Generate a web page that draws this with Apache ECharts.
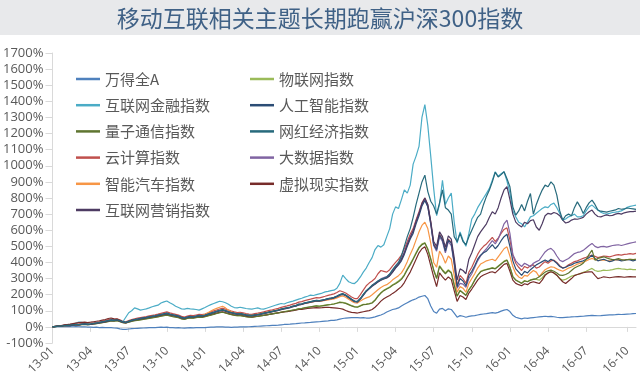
<!DOCTYPE html>
<html><head><meta charset="utf-8">
<script src="https://cdn.jsdelivr.net/npm/echarts@6/dist/echarts.min.js"></script>
<style>html,body{margin:0;padding:0;background:#fff}#c{width:640px;height:382px}</style>
</head><body><div id="c"></div>
<script>
const titleText = '移动互联相关主题长期跑赢沪深300指数';
const startDate = '2013-01-04';
const weekCount = 200;
const tickLabels = ['13-01','13-04','13-07','13-10','14-01','14-04','14-07','14-10','15-01','15-04','15-07','15-10','16-01','16-04','16-07','16-10'];

const windA = [0,1,2,1,2,3,2,1,2,1,
0,1,-1,-2,-3,-2,-4,-3,-5,-4,
-5,-7,-8,-12,-15,-16,-13,-11,-10,-9,
-8,-7,-6,-5,-5,-4,-3,-2,-3,-2,
-4,-5,-6,-5,-7,-8,-6,-5,-6,-5,
-4,-5,-4,-3,-2,-1,0,1,0,-1,
-2,-3,-2,-1,0,1,0,1,2,3,
4,5,6,7,8,9,10,11,13,15,
16,17,19,20,22,24,25,27,28,30,
31,32,34,36,37,40,41,44,48,52,
55,56,57,58,58,56,57,55,54,58,
62,68,74,82,92,100,108,112,118,130,
140,150,160,168,175,185,190,195,175,130,
95,85,110,115,100,112,108,85,60,70,
66,60,65,68,70,74,78,80,82,85,
88,85,90,98,104,108,95,72,60,54,
50,55,53,56,58,60,62,64,66,64,
65,63,60,58,57,59,60,62,63,64,
65,66,68,70,71,70,69,70,72,73,
74,75,76,78,77,78,79,80,82,83];

const cloud = [0,4,7,6,10,13,12,15,18,17,
20,23,20,22,25,28,32,36,40,45,
49,47,50,44,35,32,39,45,50,54,
58,61,64,68,72,75,79,84,89,93,
87,82,78,73,65,61,67,72,70,74,
78,76,80,86,93,99,105,111,116,110,
104,98,93,89,91,87,83,80,78,82,
85,89,93,98,102,106,111,115,121,126,
130,135,141,146,154,157,163,168,172,177,
182,180,185,190,196,200,205,213,224,218,
210,198,186,176,175,200,228,255,272,285,
300,330,350,345,340,355,378,400,420,445,
485,530,575,610,665,715,770,800,755,650,
515,485,575,545,475,545,525,405,255,320,
300,270,340,370,410,450,480,500,515,535,
555,530,550,580,605,615,540,445,395,370,
350,375,365,380,385,365,372,390,405,395,
410,414,400,380,365,372,385,395,405,410,
418,425,432,440,445,438,430,435,440,438,
435,440,445,448,445,450,452,455,452,456];

const iot = [0,2,4,5,7,9,9,11,13,12,
15,17,14,16,18,20,24,27,30,34,
38,36,39,34,27,24,30,35,39,42,
45,48,51,54,57,60,63,67,71,74,
69,65,62,58,51,48,53,57,55,59,
62,60,64,69,74,79,84,89,92,87,
82,77,73,70,71,68,64,62,61,64,
66,69,72,75,79,82,85,88,92,95,
98,101,105,108,113,115,119,122,125,128,
131,129,132,135,138,140,143,148,154,152,
148,140,132,126,124,132,140,142,145,150,
168,192,212,228,238,248,262,272,285,300,
325,360,392,425,462,495,515,522,485,425,
355,305,380,355,335,355,340,262,192,228,
212,198,232,258,292,322,345,352,358,362,
368,362,378,392,408,416,372,314,292,282,
272,288,282,292,296,295,290,305,325,335,
342,335,320,300,290,295,305,315,320,325,
331,338,345,355,363,350,345,348,352,350,
352,355,360,363,360,358,356,358,355,356];

const bigData = [0,2,5,4,8,10,9,12,14,13,
16,18,15,17,20,22,26,30,33,37,
41,39,43,37,29,26,33,39,44,47,
51,54,57,61,64,67,71,75,79,82,
77,73,69,65,57,53,59,63,61,65,
69,67,71,77,83,89,95,100,104,98,
92,87,83,79,81,77,73,71,69,73,
75,79,83,87,91,95,99,103,108,112,
116,120,126,130,137,140,146,150,154,158,
162,160,164,168,173,176,180,188,198,203,
195,182,170,158,156,174,198,222,240,258,
272,285,298,306,312,328,352,378,398,425,
465,515,560,598,655,705,760,790,748,640,
505,470,560,530,460,530,505,390,240,270,
265,245,300,330,370,410,440,465,485,510,
535,515,545,590,640,663,580,450,410,390,
375,395,385,373,395,405,414,440,465,480,
487,470,440,414,405,415,425,440,455,462,
466,475,490,505,518,500,492,498,500,495,
500,505,508,510,505,510,515,520,524,528];

const finance = [0,2,5,6,9,12,14,18,24,30,
28,22,18,20,22,24,28,32,35,38,
42,40,44,38,32,60,88,100,118,112,
104,108,112,118,125,130,135,148,155,161,
150,140,128,120,112,110,115,112,110,108,
104,112,120,130,138,145,152,159,156,150,
140,128,120,118,122,118,114,112,110,114,
118,112,110,116,122,128,134,140,145,142,
150,155,160,166,172,178,185,190,197,195,
200,205,210,217,220,225,228,240,270,321,
300,280,272,269,285,310,340,365,400,430,
480,505,495,510,560,610,700,745,735,790,
850,830,880,1010,1060,1120,1300,1380,1250,1060,
860,690,760,910,760,800,830,650,520,590,
540,500,580,670,700,740,770,800,829,860,
911,963,935,950,963,905,830,720,683,650,
640,621,650,683,690,705,720,735,745,740,
760,768,740,704,663,670,683,690,700,683,
683,690,720,745,756,740,725,712,704,700,
705,710,712,715,720,730,742,748,752,756];

const smartCar = [0,3,5,4,8,10,9,12,14,13,
16,18,15,17,20,22,26,29,32,36,
40,38,42,36,28,25,31,37,42,45,
49,52,55,59,62,65,69,73,77,80,
75,71,67,63,55,51,57,61,59,63,
68,70,78,88,98,108,115,122,128,118,
104,94,86,82,84,80,76,74,72,76,
78,82,86,90,94,98,102,106,110,114,
118,122,127,131,138,140,145,149,152,156,
160,158,161,164,168,170,174,180,188,192,
184,172,160,150,148,160,172,180,186,200,
215,230,245,255,262,275,292,305,318,335,
365,405,450,490,540,590,630,650,610,520,
400,370,470,440,395,440,420,320,215,250,
240,215,270,300,330,365,390,400,410,415,
420,410,435,460,485,497,440,373,330,310,
300,320,315,335,350,340,311,335,355,365,
373,370,360,352,345,355,365,372,380,390,
395,400,410,418,425,418,412,414,415,412,
410,412,415,418,415,416,418,420,418,420];

const ai = [0,3,6,5,9,11,10,13,15,14,
17,19,16,18,21,23,27,31,34,39,
43,41,45,39,31,28,35,41,46,49,
53,56,59,63,66,69,73,77,81,85,
79,75,71,67,59,55,61,65,63,67,
71,69,73,79,85,91,97,103,107,101,
95,89,85,81,83,79,75,73,71,75,
77,81,85,89,93,97,101,105,111,115,
119,123,129,133,141,143,149,153,157,161,
165,163,167,171,176,179,183,191,201,206,
198,185,172,160,158,176,200,222,238,255,
268,280,292,300,305,318,340,365,385,410,
450,500,545,580,640,690,750,785,745,640,
510,480,570,540,470,540,520,400,250,300,
285,255,320,345,380,420,445,460,470,490,
510,485,505,535,560,575,500,410,360,340,
320,345,335,355,370,385,395,405,415,405,
420,410,395,375,365,370,380,385,395,400,
405,410,420,430,445,425,410,415,420,412,
405,410,418,415,410,412,418,415,410,415];

const vr = [0,3,6,8,12,15,17,20,23,26,
28,30,27,29,32,35,38,42,46,52,
55,50,48,40,30,27,32,38,42,45,
48,51,54,58,61,64,67,71,75,78,
73,69,65,61,53,49,55,59,57,61,
64,62,66,71,76,81,86,90,93,88,
83,78,74,71,72,69,65,63,61,64,
66,69,72,75,78,81,84,87,90,93,
95,98,101,104,108,109,112,114,116,118,
120,118,119,121,122,120,118,116,114,110,
102,95,90,88,86,90,94,98,101,108,
122,140,160,175,185,195,208,220,235,250,
275,310,340,380,420,460,485,497,450,380,
311,250,335,310,290,310,295,225,158,195,
185,170,210,235,262,290,311,322,330,338,
342,335,352,370,388,394,345,290,270,262,
255,268,262,275,280,275,269,290,320,335,
342,335,321,300,280,269,285,300,318,325,
331,336,340,342,342,320,300,305,311,308,
305,308,310,312,310,308,310,312,310,311];

const quantum = [0,2,4,4,7,9,8,10,12,12,
14,16,14,15,18,20,23,26,29,33,
37,35,38,33,26,24,29,34,38,41,
44,47,50,53,56,59,62,66,70,73,
68,64,61,57,50,47,52,56,54,58,
61,59,63,68,73,78,83,88,91,86,
81,76,72,69,70,67,63,61,60,63,
65,68,71,74,78,81,84,87,91,94,
97,100,104,107,112,114,118,121,124,127,
130,128,131,134,137,139,142,147,152,150,
146,138,130,124,122,130,138,140,143,148,
165,190,210,225,235,245,258,268,280,295,
320,355,385,420,455,490,510,520,480,420,
352,300,375,350,330,350,335,260,190,225,
210,195,230,255,290,320,342,350,355,360,
365,360,375,390,405,414,370,311,290,280,
270,285,280,290,295,300,311,325,340,348,
352,345,335,321,320,325,335,350,365,375,
383,395,420,450,476,414,425,430,435,428,
422,418,420,424,418,415,418,420,418,420];

const marketing = [0,2,4,4,7,9,8,11,13,12,
15,17,14,16,19,21,25,28,31,36,
40,38,41,35,28,25,32,38,43,46,
50,53,56,60,63,66,70,74,78,82,
76,72,68,64,56,52,58,62,60,64,
68,66,70,76,82,88,94,99,103,97,
91,86,82,78,80,76,72,70,68,72,
74,78,82,86,90,94,98,102,107,111,
115,119,125,129,136,139,145,149,153,157,
161,159,163,167,172,175,179,187,197,202,
194,181,168,156,154,172,196,220,236,252,
265,278,290,298,304,318,342,368,390,418,
458,510,555,595,655,705,765,800,760,655,
530,500,590,560,495,565,545,430,290,360,
350,330,420,460,510,560,590,615,640,680,
715,700,740,800,850,870,790,700,650,632,
620,650,640,660,665,620,600,640,690,705,
700,710,704,690,663,645,650,663,670,668,
673,680,700,715,725,700,685,683,690,695,
690,692,700,705,700,708,712,715,716,719];

const influencer = [0,3,5,5,8,10,10,12,14,14,
16,18,16,18,21,24,27,31,35,39,
42,41,44,38,31,28,34,40,45,48,
52,55,58,62,65,68,72,76,80,84,
78,74,70,66,58,54,60,64,62,66,
70,68,72,78,84,90,96,101,106,100,
94,88,84,80,82,78,74,72,70,74,
76,80,84,88,92,96,100,104,110,114,
118,122,128,132,140,142,148,152,156,160,
164,162,166,170,175,178,182,190,200,205,
197,184,171,159,157,176,202,225,240,258,
270,285,295,302,310,328,355,378,400,440,
500,560,610,680,760,830,900,942,840,780,
750,700,770,850,740,725,700,560,528,580,
530,510,559,600,640,680,700,760,810,850,
900,960,930,945,963,920,870,745,694,720,
760,720,780,828,700,760,808,849,880,870,
900,880,818,720,663,690,700,690,740,776,
745,704,740,770,787,760,725,718,715,712,
718,722,726,735,730,732,738,735,732,729];

const seriesNames = ['万得全A','云计算指数','物联网指数','大数据指数','互联网金融指数','智能汽车指数','人工智能指数','虚拟现实指数','量子通信指数','互联网营销指数','网红经济指数'];
const seriesData = [windA, cloud, iot, bigData, finance, smartCar, ai, vr, quantum, marketing, influencer];
const seriesColors = ['#4F81BD','#C0504D','#9BBB59','#8064A2','#4BACC6','#F79646','#2C4D75','#772C2A','#5F7530','#4D3B62','#276A7C'];
const legendCol1 = ['万得全A','互联网金融指数','量子通信指数','云计算指数','智能汽车指数','互联网营销指数'];
const legendCol2 = ['物联网指数','人工智能指数','网红经济指数','大数据指数','虚拟现实指数'];

// weekly category dates
const categories = [];
const t0 = Date.parse(startDate + 'T00:00:00Z');
for (let i = 0; i < weekCount; i++) {
  categories.push(new Date(t0 + i * 7 * 86400000).toISOString().slice(0, 10));
}
const tickIndex = {};
let k = 0;
for (let i = 0; i < categories.length; i++) {
  const m = +categories[i].slice(5, 7);
  const pm = i > 0 ? +categories[i - 1].slice(5, 7) : -1;
  if (m !== pm && (m - 1) % 3 === 0 && k < tickLabels.length) { tickIndex[i] = tickLabels[k++]; }
}
const isTick = (idx) => tickIndex[idx] !== undefined;

const grey = '#595959';
const lineGrey = '#d9d9d9';
const latin = '"Open Sans", "Noto Sans CJK SC", sans-serif';
const cjk = '"Noto Sans CJK SC", sans-serif';

const chart = echarts.init(document.getElementById('c'), null, {renderer: 'canvas'});
const legendBase = {
  orient: 'vertical', icon: 'rect', itemWidth: 24, itemHeight: 2.5, itemGap: 8.2,
  textStyle: {fontSize: 15, color: grey, fontFamily: cjk, lineHeight: 18},
  selectedMode: false
};
chart.setOption({
  animation: false,
  graphic: [{type: 'rect', left: 0, top: 0, z: -10, shape: {width: 640, height: 35}, style: {fill: '#e8e9eb'}}],
  title: {text: titleText, left: 'center', top: 2, textStyle: {fontSize: 23, fontWeight: 'normal', color: '#3f6186', fontFamily: cjk}},
  legend: [
    Object.assign({}, legendBase, {left: 71, top: 65, data: legendCol1}),
    Object.assign({}, legendBase, {left: 245, top: 65, data: legendCol2})
  ],
  grid: {left: 49, right: 4, top: 53, bottom: 39, containLabel: false},
  xAxis: {
    type: 'category', data: categories, boundaryGap: false,
    axisLine: {lineStyle: {color: lineGrey}},
    axisTick: {show: true, length: 5, interval: (i) => isTick(i), lineStyle: {color: lineGrey}},
    axisLabel: {interval: (i) => isTick(i), formatter: (v, i) => tickIndex[i] || '', rotate: 45, fontSize: 12, color: grey, fontFamily: latin, margin: 6},
    splitLine: {show: false}
  },
  yAxis: {
    type: 'value', min: -100, max: 1700, interval: 100,
    axisLine: {show: true, lineStyle: {color: lineGrey}},
    axisTick: {show: true, length: 7, lineStyle: {color: lineGrey}},
    axisLabel: {formatter: (v) => v + '%', fontSize: 13, color: grey, fontFamily: latin, margin: 9},
    splitLine: {show: false}
  },
  series: seriesNames.map((n, i) => ({
    name: n, type: 'line', data: seriesData[i], showSymbol: false, symbol: 'none',
    color: seriesColors[i], lineStyle: {width: 1.2, color: seriesColors[i]},
    emphasis: {disabled: true}, silent: true
  }))
});
</script></body></html>
